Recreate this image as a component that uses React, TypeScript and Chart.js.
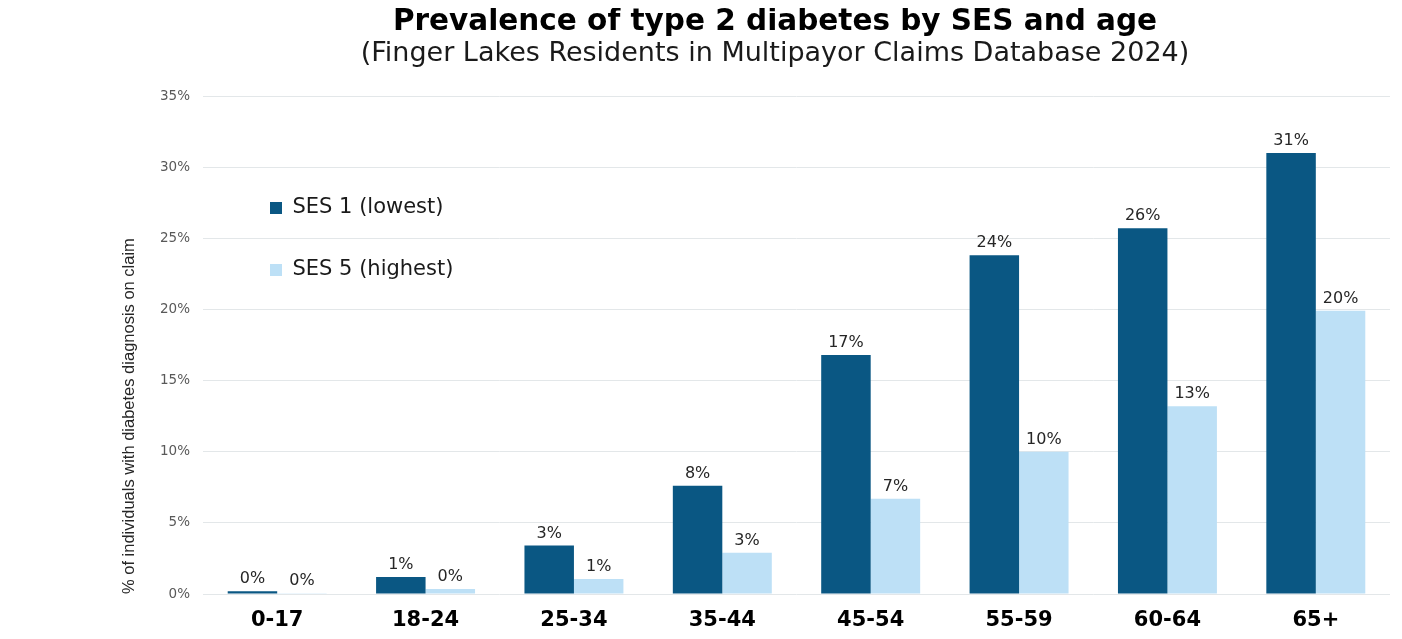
import React, { useEffect, useRef } from "react";
import { Chart, registerables } from "chart.js";

Chart.register(...registerables);

const categories = ["0-17", "18-24", "25-34", "35-44", "45-54", "55-59", "60-64", "65+"];
const ses1Values = [0.2, 1.2, 3.4, 7.6, 16.8, 23.8, 25.7, 31.0];
const ses5Values = [0.05, 0.35, 1.05, 2.9, 6.7, 10.0, 13.2, 19.9];
const seriesNames = ["SES 1 (lowest)", "SES 5 (highest)"];
const yTicks = [0, 5, 10, 15, 20, 25, 30, 35];
const titleText = "Prevalence of type 2 diabetes by SES and age";
const subtitleText = "(Finger Lakes Residents in Multipayor Claims Database 2024)";
const yAxisTitle = "% of individuals with diabetes diagnosis on claim";

const DARK = "#0a5783";
const LIGHT = "#bde0f6";

const valueLabels = {
  id: "valueLabels",
  afterDatasetsDraw(chart: any) {
    const ctx = chart.ctx;
    ctx.save();
    ctx.font = "16px 'DejaVu Sans'";
    ctx.fillStyle = "#262626";
    ctx.textAlign = "center";
    ctx.textBaseline = "alphabetic";
    chart.data.datasets.forEach((ds: any, di: number) => {
      const meta = chart.getDatasetMeta(di);
      meta.data.forEach((bar: any, i: number) => {
        const v = ds.data[i];
        ctx.fillText(Math.round(v) + "%", bar.x, bar.y - 8);
      });
    });
    ctx.restore();
  },
};

const legendPlacer = {
  id: "legendPlacer",
  afterLayout(chart: any) {
    const lg = chart.legend;
    if (!lg) return;
    lg.left = chart.chartArea.left + 26;
    lg.top = chart.chartArea.top + 60.5;
  },
};

export default function App() {
  const ref = useRef<HTMLCanvasElement | null>(null);
  useEffect(() => {
    if (!ref.current) return;
    const chart = new Chart(ref.current, {
      type: "bar",
      data: {
        labels: categories,
        datasets: [
          {
            label: seriesNames[0],
            data: ses1Values,
            backgroundColor: DARK,
            borderWidth: 0,
            barPercentage: 1,
            categoryPercentage: 0.667,
          },
          {
            label: seriesNames[1],
            data: ses5Values,
            backgroundColor: LIGHT,
            borderWidth: 0,
            barPercentage: 1,
            categoryPercentage: 0.667,
          },
        ],
      },
      options: {
        animation: false,
        responsive: true,
        maintainAspectRatio: false,
        layout: { padding: { left: 152, right: 4, top: 0, bottom: 0 } },
        plugins: {
          tooltip: { enabled: false },
          title: {
            display: true,
            text: titleText,
            color: "#000000",
            font: { family: "'DejaVu Sans'", size: 29.5, weight: "bold", lineHeight: 1.0 },
            padding: { top: 0, bottom: 0 },
          },
          subtitle: {
            display: true,
            text: subtitleText,
            color: "#1a1a1a",
            font: { family: "'DejaVu Sans'", size: 27, weight: "normal", lineHeight: 1.0 },
            padding: { top: 2.5, bottom: 29 },
          },
          legend: {
            position: "chartArea",
            align: "start",
            labels: {
              boxWidth: 12,
              boxHeight: 12,
              padding: 41,
              color: "#1a1a1a",
              font: { family: "'DejaVu Sans'", size: 21 },
            },
          },
        },
        scales: {
          x: {
            afterFit: (scale: any) => {
              scale.height = 37;
            },
            grid: { display: false, drawTicks: false },
            border: { display: false },
            ticks: {
              color: "#000000",
              padding: 16,
              font: { family: "'DejaVu Sans'", size: 21, weight: "bold", lineHeight: 1.0 },
            },
          },
          y: {
            min: 0,
            max: 35,
            afterBuildTicks: (scale: any) => {
              scale.ticks = yTicks.map((v) => ({ value: v }));
            },
            afterFit: (scale: any) => {
              scale.width = 43;
            },
            grid: { color: "#e3e7e9", lineWidth: 1, drawTicks: false },
            border: { display: false },
            ticks: {
              color: "#595959",
              padding: 13,
              font: { family: "'DejaVu Sans'", size: 13.5 },
              callback: (v: any) => v + "%",
            },
            title: {
              display: true,
              text: yAxisTitle,
              align: "start",
              color: "#262626",
              font: { family: "'Liberation Sans'", size: 16.5, lineHeight: 1.2 },
              padding: { top: -40, bottom: 0 },
            },
          },
        },
      },
      plugins: [valueLabels, legendPlacer],
    } as any);
    return () => chart.destroy();
  }, []);
  return (
    <div style={{ position: "relative", width: 1386, height: 623 }}>
      <canvas ref={ref} />
    </div>
  );
}
